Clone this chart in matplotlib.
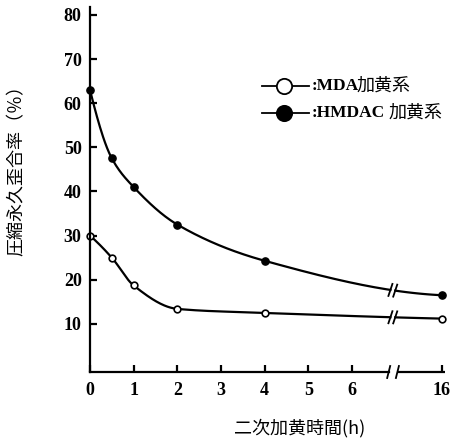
import numpy as np
import matplotlib
matplotlib.use("Agg")
import matplotlib.pyplot as plt
import matplotlib.transforms as mtransforms
from matplotlib.lines import Line2D

# ---------------- data ----------------
hours = [0, 0.5, 1, 2, 4, 16]
mda_values = [30.0, 25.0, 18.7, 13.4, 12.5, 11.2]
hmdac_values = [63.0, 47.5, 41.0, 32.5, 24.3, 16.5]
xtick_hours = [0, 1, 2, 3, 4, 5, 6, 16]
xtick_labels = ["0", "1", "2", "3", "4", "5", "6", "16"]
ytick_values = [10, 20, 30, 40, 50, 60, 70, 80]
series_names = ["MDA", "HMDAC"]
series_suffix = "加黄系"
xlabel_text = "二次加黄時間(h)"
ylabel_text = "圧縮永久歪合率（％）"

# ---------------- broken axis scale ----------------
COMP = 0.205  # compression factor beyond 6 h


def fwd(h):
    h = np.asarray(h, dtype=float)
    return np.where(h <= 6, h, 6 + (h - 6) * COMP)


def inv(p):
    p = np.asarray(p, dtype=float)
    return np.where(p <= 6, p, 6 + (p - 6) / COMP)


def pchip(x, y, xn):
    x = np.asarray(x, float)
    y = np.asarray(y, float)
    h = np.diff(x)
    d = np.diff(y) / h
    n = len(x)
    m = np.zeros(n)
    for k in range(1, n - 1):
        if d[k - 1] * d[k] <= 0:
            m[k] = 0
        else:
            w1 = 2 * h[k] + h[k - 1]
            w2 = h[k] + 2 * h[k - 1]
            m[k] = (w1 + w2) / (w1 / d[k - 1] + w2 / d[k])

    def endslope(h0, h1, d0, d1):
        s = ((2 * h0 + h1) * d0 - h0 * d1) / (h0 + h1)
        if np.sign(s) != np.sign(d0):
            s = 0
        elif np.sign(d0) != np.sign(d1) and abs(s) > abs(3 * d0):
            s = 3 * d0
        return s

    m[0] = endslope(h[0], h[1], d[0], d[1])
    m[-1] = endslope(h[-1], h[-2], d[-1], d[-2])
    xn = np.asarray(xn, float)
    idx = np.clip(np.searchsorted(x, xn) - 1, 0, n - 2)
    t = (xn - x[idx]) / h[idx]
    h00 = 2 * t**3 - 3 * t**2 + 1
    h10 = t**3 - 2 * t**2 + t
    h01 = -2 * t**3 + 3 * t**2
    h11 = t**3 - t**2
    return (h00 * y[idx] + h10 * h[idx] * m[idx] + h01 * y[idx + 1]
            + h11 * h[idx] * m[idx + 1])


W, H = 454, 443
fig = plt.figure(figsize=(W / 100, H / 100), dpi=100)
ax = fig.add_axes([90 / W, 1 - 372 / H, (445 - 90) / W, (372 - 7) / H])
ax.set_xscale("function", functions=(fwd, inv))
x_max_h = float(inv(8.13))
ax.set_xlim(0, x_max_h)
ax.set_ylim(-0.9, 81.8)

LW = 1.6
for s in ["top", "right"]:
    ax.spines[s].set_visible(False)
for s in ["left", "bottom"]:
    ax.spines[s].set_linewidth(LW)
    ax.spines[s].set_zorder(5)

gap_lo, gap_hi = 6.84, 7.04
ax.spines["bottom"].set_bounds(0, float(inv(gap_lo)))
blend = mtransforms.blended_transform_factory(ax.transData, ax.transAxes)
ax.plot([float(inv(gap_hi)), x_max_h], [0, 0], transform=blend, color="black",
        lw=LW, clip_on=False, solid_capstyle="butt")

ax.set_xticks(xtick_hours)
ax.set_xticklabels(xtick_labels)
ax.set_yticks(ytick_values)
ax.tick_params(axis="both", direction="in", length=5, width=LW)
ax.tick_params(axis="x", pad=7)
ax.tick_params(axis="y", pad=6)
for lab in ax.get_xticklabels() + ax.get_yticklabels():
    lab.set_fontfamily("Liberation Serif")
    lab.set_fontweight("bold")
    lab.set_fontsize(13)

# ---------------- curves ----------------
pos = fwd(hours)
brk_a, brk_b = 6.88, 6.99
segments = [np.linspace(0, brk_a, 300), np.linspace(brk_b, float(pos[-1]), 60)]


def px_line(p0, dx1, dy1, dx2, dy2):
    """Short decoration line in display pixels around a display point."""
    return Line2D([p0[0] + dx1, p0[0] + dx2], [p0[1] + dy1, p0[1] + dy2],
                  transform=mtransforms.IdentityTransform(), color="black",
                  lw=1.3, clip_on=False)


styles = [dict(mfc="white", mec="black", ms=4.8, mew=1.2),
          dict(mfc="black", mec="black", ms=5.2, mew=1.0)]
for vals, st in zip([mda_values, hmdac_values], styles):
    for seg in segments:
        yy = pchip(pos, vals, seg)
        ax.plot(inv(seg), yy, color="black", lw=LW, zorder=3)
    ax.plot(hours, vals, linestyle="none", marker="o", zorder=4,
            clip_on=False, **st)
    # break marks on the curve
    for p in (brk_a, brk_b):
        yv = float(pchip(pos, vals, [p])[0])
        d = ax.transData.transform((float(inv(p)), yv))
        fig.add_artist(px_line(d, -2, -6, 2, 6))

# break marks on x axis
for p in (gap_lo, gap_hi):
    d = blend.transform((float(inv(p)), 0))
    fig.add_artist(px_line(d, -1.5, -6, 1.5, 6))

# ---------------- legend (manual) ----------------
leg_rows = [86, 113]
latin_x = 312
cjk_x = [357, 389]
for i, (name, st) in enumerate(zip(series_names, styles)):
    yf = 1 - leg_rows[i] / H
    fig.add_artist(Line2D([262 / W, 309 / W], [yf, yf], transform=fig.transFigure,
                          color="black", lw=1.3))
    st2 = dict(st)
    st2["ms"] = 11
    st2["mew"] = 1.3
    fig.add_artist(Line2D([284 / W], [yf], transform=fig.transFigure,
                          marker="o", linestyle="none", **st2))
    fig.text(latin_x / W, yf, ":" + name, ha="left", va="center",
             fontfamily="Liberation Serif", fontweight="bold", fontsize=12.5)
    fig.text(cjk_x[i] / W, yf, series_suffix, ha="left", va="center",
             fontfamily="Noto Sans CJK JP", fontsize=13)

# ---------------- axis labels ----------------
fig.text(300 / W, 1 - 428 / H, xlabel_text, ha="center", va="center",
         fontfamily="Noto Sans CJK JP", fontsize=13)
fig.text(17 / W, 1 - 166 / H, ylabel_text, ha="center", va="center",
         rotation=90, fontfamily="Noto Sans CJK JP", fontsize=13)

fig.savefig("out.png", dpi=100)
